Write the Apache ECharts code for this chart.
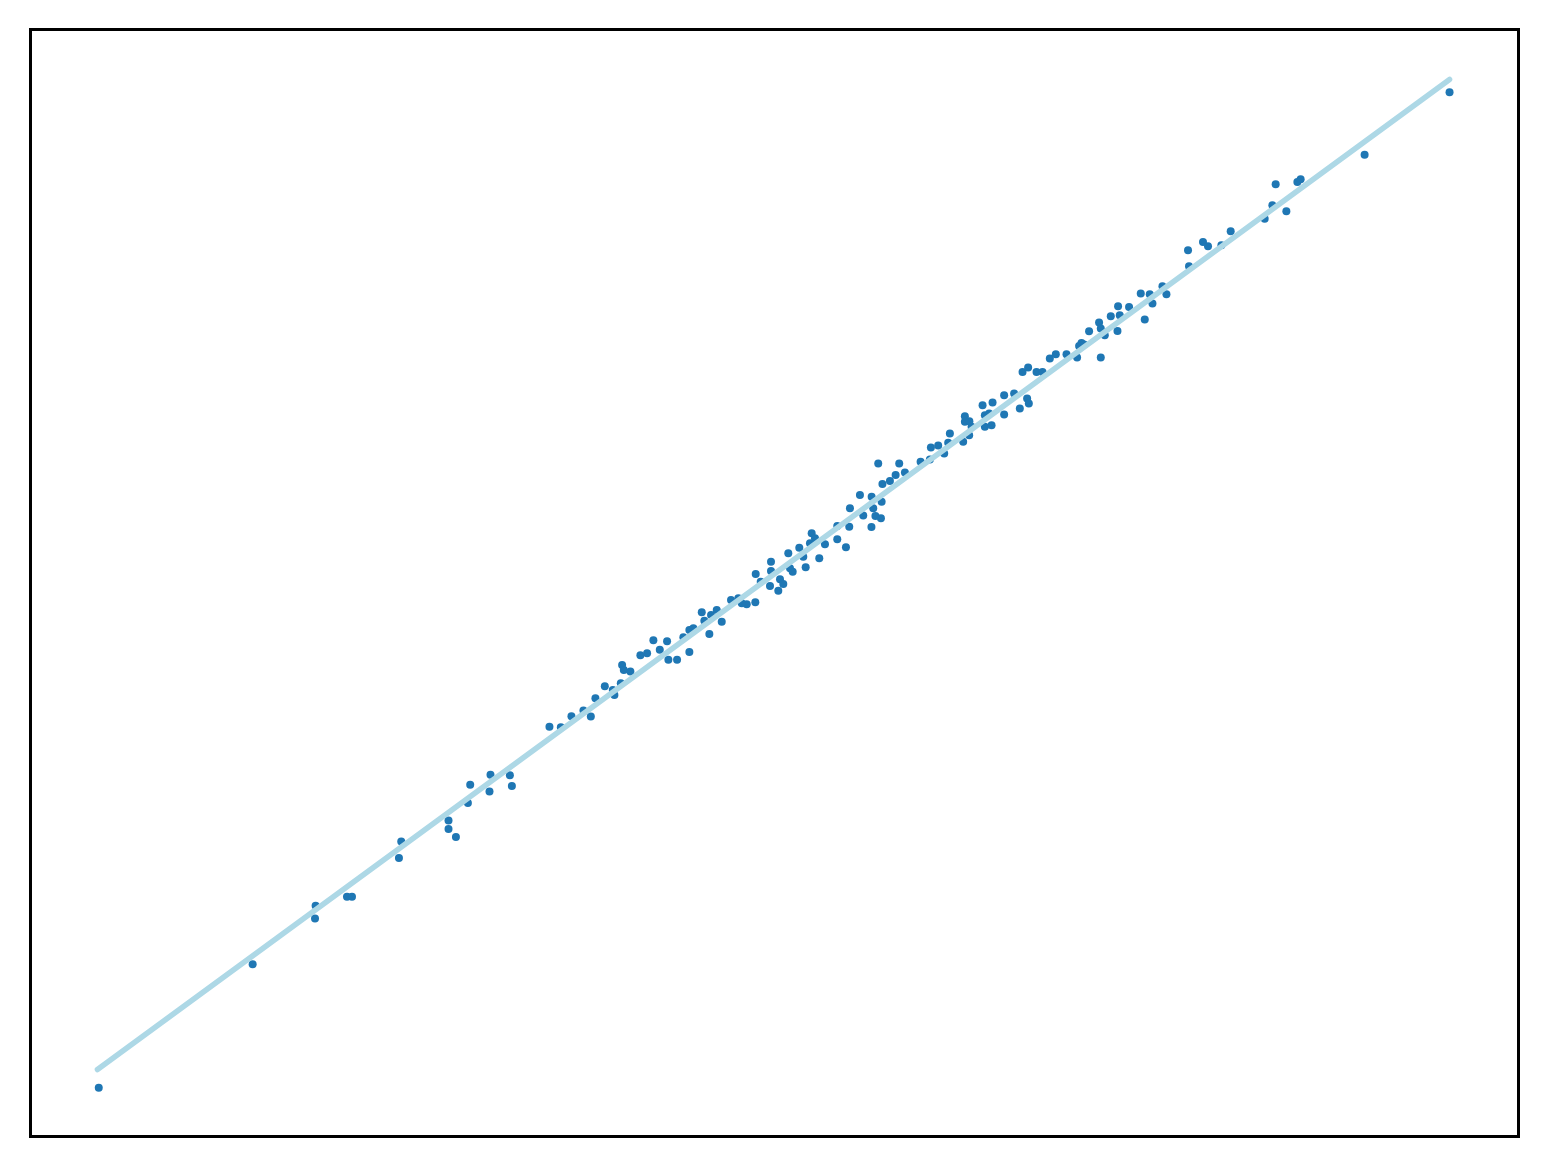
<!DOCTYPE html>
<html>
<head>
<meta charset="utf-8">
<script src="https://cdn.jsdelivr.net/npm/echarts@6/dist/echarts.min.js"></script>
<style>
html,body{margin:0;padding:0;background:#fff;}
#chart{width:1548px;height:1168px;}
</style>
</head>
<body>
<div id="chart"></div>
<script>
// Observed sample values (x, y)
var pointsX = [6.83,22.23,28.53,28.47,31.67,32.17,36.87,37.1,41.83,41.83,42.57,43.77,44.0,45.93,46.03,47.97,48.17,
51.93,53.07,54.13,55.33,56.07,56.53,57.47,58.27,58.43,59.07,59.2,59.37,60.03,61.03,61.7,62.33,62.97,63.7,63.83,64.7,
65.33,65.93,65.93,66.33,67.93,67.43,67.17,68.1,68.67,69.17,70.1,70.83,71.67,71.17,72.53,72.57,73.07,74.1,74.1,74.0,
74.83,75.0,75.33,76.0,76.27,75.83,76.93,77.33,77.57,78.17,78.5,78.0,78.93,79.5,80.73,80.73,81.6,81.93,82.0,83.0,84.17,
83.33,84.33,84.15,84.55,85.1,85.17,85.25,84.83,86.0,86.57,86.93,87.5,89.07,90.1,90.83,90.0,91.43,92.0,91.83,93.33,93.5,
93.93,94.17,93.5,93.95,95.27,95.5,95.93,96.27,95.5,96.17,97.43,97.43,98.43,99.0,99.73,99.9,99.27,99.83,100.67,101.27,
102.0,102.6,103.67,104.73,105.17,104.93,105.43,105.93,106.93,107.1,107.1,107.5,108.1,108.83,109.0,108.77,109.93,111.5,
111.1,112.0,112.27,113.27,113.67,115.83,115.93,117.33,117.83,119.17,120.1,123.5,124.27,124.6,125.67,126.77,127.1,133.5,142.0];
var pointsY = [4.87,17.23,23.1,21.83,24.0,24.0,27.87,29.53,31.63,30.77,29.97,33.37,35.2,34.53,36.2,36.17,35.07,
41.0,40.97,42.07,42.63,42.03,43.87,45.07,44.7,44.2,45.37,47.2,46.7,46.53,48.17,48.37,49.67,48.73,49.57,47.73,47.73,
49.97,48.5,50.7,50.87,50.3,51.63,52.47,52.2,52.7,51.53,53.7,53.87,53.27,53.37,53.47,56.3,55.53,57.53,56.6,55.1,
54.63,55.77,55.3,56.87,56.53,58.37,58.93,58.03,56.97,60.37,59.87,59.37,57.87,59.27,61.1,59.77,58.97,61.03,62.87,64.2,64.03,
62.15,62.87,61.0,62.1,61.87,63.53,65.3,67.37,65.6,66.2,67.37,66.47,67.53,68.97,69.17,67.77,68.37,70.37,69.43,69.53,71.53,
70.2,71.03,72.1,71.6,73.2,72.2,72.37,73.47,71.03,71.2,74.2,72.27,74.37,72.87,73.87,73.37,76.53,76.97,76.53,76.53,
77.87,78.3,78.3,77.97,79.43,79.13,79.27,80.6,81.47,80.87,77.97,80.2,82.1,83.1,82.2,80.63,83.03,81.77,
84.37,84.3,83.37,85.1,84.3,88.7,87.1,89.53,89.1,89.2,90.6,91.87,93.2,95.3,92.6,95.53,95.8,98.27,104.53];
// Fitted line endpoints
var fitX = [6.7, 142.0];
var fitY = [6.7, 105.8];

var scatterData = pointsX.map(function(x,i){return [x, pointsY[i]];});
var lineData = fitX.map(function(x,i){return [x, fitY[i]];});

var chart = echarts.init(document.getElementById('chart'), null, {renderer:'canvas'});
chart.setOption({
  animation:false,
  backgroundColor:'#ffffff',
  grid:{left:30.5,top:29.5,right:29.5,bottom:31.5,show:true,borderColor:'#000000',borderWidth:3,backgroundColor:'transparent'},
  xAxis:{type:'value',min:0,max:148.9,axisLine:{show:false},axisTick:{show:false},axisLabel:{show:false},splitLine:{show:false}},
  yAxis:{type:'value',min:0,max:110.8,axisLine:{show:false},axisTick:{show:false},axisLabel:{show:false},splitLine:{show:false}},
  series:[
    {type:'scatter',data:scatterData,symbolSize:8,itemStyle:{color:'#1f77b4',opacity:1},z:2},
    {type:'line',data:lineData,symbol:'none',lineStyle:{color:'#add8e6',width:5.5,cap:'round'},z:3}
  ]
});
</script>
</body>
</html>
